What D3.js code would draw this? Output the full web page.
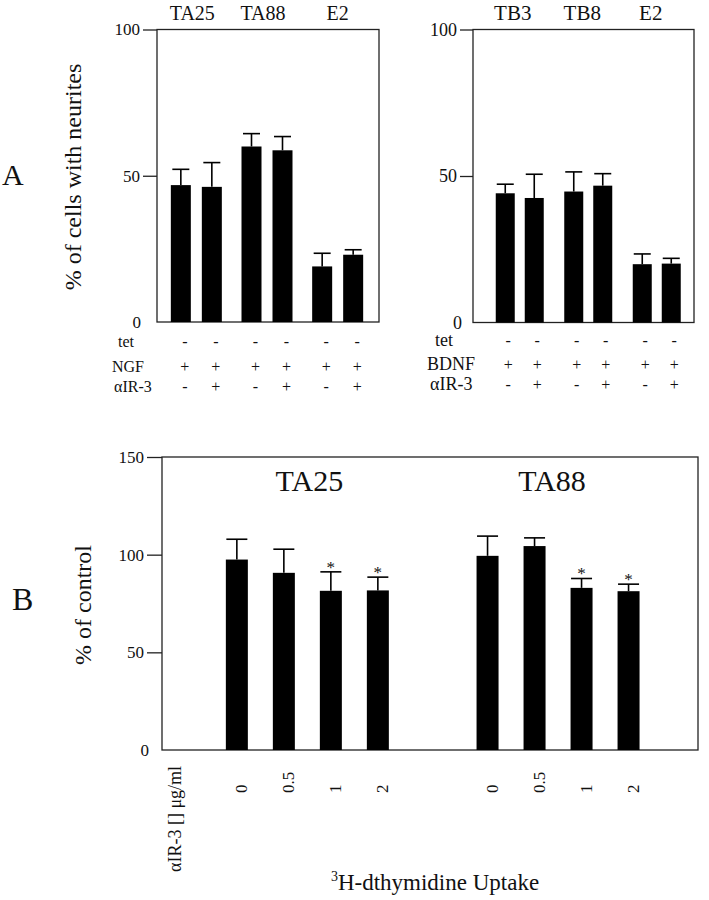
<!DOCTYPE html>
<html><head><meta charset="utf-8">
<script src="https://cdn.jsdelivr.net/npm/d3@7"></script>
<style>
body{margin:0;background:#fff}
svg text{font-family:'Liberation Serif','Times New Roman',Times,serif;fill:#111}
</style>
</head><body>
<svg id="c" width="709" height="900" font-family="'Liberation Serif', Times, serif"></svg>
<script>
// ---------- data ----------
const groupsA1 = ["TA25", "TA88", "E2"];
const valuesA1 = [46.8, 46.2, 60.0, 58.7, 19.0, 23.0];
const errorsA1 = [5.4, 8.3, 4.4, 4.7, 4.5, 1.7];
const groupsA2 = ["TB3", "TB8", "E2"];
const valuesA2 = [44.1, 42.5, 44.7, 46.7, 19.9, 20.1];
const errorsA2 = [3.1, 8.1, 6.7, 4.1, 3.5, 1.8];
const tetRow = ["-", "-", "-", "-", "-", "-"];
const factorRow = ["+", "+", "+", "+", "+", "+"];
const airRow = ["-", "+", "-", "+", "-", "+"];
const ticksA = [0, 50, 100];

const groupsB = ["TA25", "TA88"];
const dosesB = ["0", "0.5", "1", "2"];
const valuesB = [97.5, 90.7, 81.5, 81.7, 99.4, 104.4, 83.0, 81.3];
const errorsB = [10.4, 12.1, 9.7, 6.8, 10.1, 4.2, 4.8, 3.6];
const sigB = [false, false, true, true, false, false, true, true];
const ticksB = [0, 50, 100, 150];

// ---------- drawing ----------
const svg = d3.select("#c");
const FONT = "'Liberation Serif', Times, serif";

function txt(sel) { return sel.style("font-family", FONT).attr("fill", "#111"); }

function box(x0, x1, yT, yB) {
  svg.append("rect").attr("x", x0).attr("y", yT).attr("width", x1 - x0).attr("height", yB - yT)
    .attr("fill", "none").attr("stroke", "#222").attr("stroke-width", 1.3);
}

function leftAxis(x0, y, ticks, tickSize, fs, zeroShift) {
  const ga = svg.append("g").attr("transform", `translate(${x0},0)`)
    .call(d3.axisLeft(y).tickValues(ticks).tickSize(tickSize).tickPadding(3).tickFormat(d3.format("d")));
  ga.attr("font-family", FONT);
  ga.select(".domain").remove();
  ga.selectAll(".tick line").attr("stroke", "#222").attr("stroke-width", 1.3);
  ga.selectAll(".tick").filter(d => d === 0).select("line").remove();
  txt(ga.selectAll(".tick text")).style("font-size", fs + "px");
  ga.selectAll(".tick").filter(d => d === 0).select("text").attr("x", -tickSize - 3 + zeroShift);
}

function errBars(data, cx, y, capW) {
  const g = svg.append("g").attr("stroke", "#000").attr("stroke-width", 1.6);
  g.selectAll("line.v").data(data).join("line").attr("class", "v")
    .attr("x1", cx).attr("x2", cx).attr("y1", d => y(d.v)).attr("y2", d => y(d.v + d.e));
  g.selectAll("line.h").data(data).join("line").attr("class", "h")
    .attr("x1", d => cx(d) - capW / 2).attr("x2", d => cx(d) + capW / 2)
    .attr("y1", d => y(d.v + d.e)).attr("y2", d => y(d.v + d.e));
}

function panelA(c) {
  const y = d3.scaleLinear().domain([0, 100]).range([c.yB, c.yT]);
  const gx = d3.scaleBand().domain(c.groups).range([c.gStart, c.gEnd]);
  const ix = d3.scaleBand().domain([0, 1]).range([-c.half, c.half]).paddingInner(c.pad);
  const data = c.values.map((v, i) => ({ g: c.groups[Math.floor(i / 2)], k: i % 2, v, e: c.errors[i], i }));
  const left = d => gx(d.g) + gx.bandwidth() / 2 + ix(d.k);
  const cx = d => left(d) + ix.bandwidth() / 2;

  box(c.x0, c.x1, c.yT, c.yB);
  svg.append("g").selectAll("rect").data(data).join("rect")
    .attr("x", left).attr("width", ix.bandwidth())
    .attr("y", d => y(d.v)).attr("height", d => y(0) - y(d.v)).attr("fill", "#000");
  errBars(data, cx, y, c.capW);
  leftAxis(c.x0, y, ticksA, c.tick, c.tickFs, c.zeroShift);

  txt(svg.append("g").selectAll("text").data(c.groups).join("text"))
    .attr("x", (g, i) => gx(g) + gx.bandwidth() / 2 + c.labShift[i]).attr("y", 20)
    .attr("text-anchor", "middle").style("font-size", c.topFs + "px").text(g => g);

  const rows = [
    { name: "tet", vals: tetRow, y: c.rowY[0], x: c.rowX[0] },
    { name: c.factor, vals: factorRow, y: c.rowY[1], x: c.rowX[1] },
    { name: "\u03B1IR-3", vals: airRow, y: c.rowY[2], x: c.rowX[2] }
  ];
  rows.forEach(r => {
    txt(svg.append("text")).attr("x", r.x).attr("y", r.y).style("font-size", c.rowFs + "px").text(r.name);
    txt(svg.append("g").selectAll("text").data(data).join("text"))
      .attr("x", d => cx(d) + c.signShift).attr("y", r.y)
      .attr("text-anchor", "middle").style("font-size", "16px").text(d => r.vals[d.i]);
  });
}

panelA({
  x0: 157, x1: 379, yT: 29.5, yB: 322, groups: groupsA1, values: valuesA1, errors: errorsA1,
  gStart: 161, gEnd: 373, half: 25.5, pad: 11 / 31, capW: 17, tick: 14, tickFs: 17, zeroShift: 1,
  topFs: 20, labShift: [-4, -4, 0], factor: "NGF", rowFs: 16,
  rowY: [347, 372, 392], rowX: [118, 112, 114], signShift: 4
});
panelA({
  x0: 473, x1: 694, yT: 29.5, yB: 322.5, groups: groupsA2, values: valuesA2, errors: errorsA2,
  gStart: 485.5, gEnd: 691, half: 24, pad: 10 / 29, capW: 17, tick: 13, tickFs: 18, zeroShift: 5,
  topFs: 21, labShift: [-7, -6, -6], factor: "BDNF", rowFs: 18,
  rowY: [346, 370, 390], rowX: [435, 427, 430], signShift: 3
});

// ---------- panel B ----------
(function () {
  const x0 = 162, x1 = 698, yB = 750;
  const y = d3.scaleLinear().domain([0, 150]).range([yB, 457]);
  const gx = d3.scaleBand().domain(groupsB).range([182, 683.4]);
  const ix = d3.scaleBand().domain(dosesB).range([-81.5, 81.5]).paddingInner(25 / 47);
  const data = valuesB.map((v, i) => ({ g: groupsB[Math.floor(i / 4)], k: dosesB[i % 4], v, e: errorsB[i], s: sigB[i], i }));
  const left = d => gx(d.g) + gx.bandwidth() / 2 + ix(d.k);
  const cx = d => left(d) + ix.bandwidth() / 2;

  box(x0, x1, y(150), yB);
  svg.append("g").selectAll("rect").data(data).join("rect")
    .attr("x", left).attr("width", ix.bandwidth())
    .attr("y", d => y(d.v)).attr("height", d => y(0) - y(d.v)).attr("fill", "#000");
  errBars(data, cx, y, 21);
  txt(svg.append("g").selectAll("text").data(data.filter(d => d.s)).join("text"))
    .attr("x", cx).attr("y", d => y(d.v + d.e) + 1).attr("text-anchor", "middle")
    .style("font-size", "17px").text("*");
  leftAxis(x0, y, ticksB, 15, 17, 5);

  txt(svg.append("g").selectAll("text").data(groupsB).join("text"))
    .attr("x", (g, i) => gx(g) + gx.bandwidth() / 2 + [2, -6][i]).attr("y", 491)
    .attr("text-anchor", "middle").style("font-size", "30px").text(g => g);

  txt(svg.append("g").selectAll("text").data(data).join("text"))
    .attr("transform", d => `translate(${cx(d) + 4},793) rotate(-90)`)
    .attr("dy", "0.35em").attr("text-anchor", "start").style("font-size", "17px").text(d => d.k);

  txt(svg.append("text")).attr("transform", "translate(181,872) rotate(-90)")
    .attr("text-anchor", "start").style("font-size", "18px").text("\u03B1IR-3 [] \u03BCg/ml");

  const t = txt(svg.append("text")).attr("x", 435).attr("y", 890).attr("text-anchor", "middle").style("font-size", "23px");
  t.append("tspan").style("font-size", "14px").attr("dy", -9).text("3");
  t.append("tspan").attr("dy", 9).text("H-dthymidine Uptake");

  txt(svg.append("text")).attr("transform", "translate(91,605) rotate(-90)")
    .attr("text-anchor", "middle").style("font-size", "24px").text("% of control");
  txt(svg.append("text")).attr("x", 12).attr("y", 610).style("font-size", "32px").text("B");
})();

txt(svg.append("text")).attr("transform", "translate(81,177) rotate(-90)")
  .attr("text-anchor", "middle").style("font-size", "24px").text("% of cells with neurites");
txt(svg.append("text")).attr("x", 2).attr("y", 185).style("font-size", "30px").text("A");
</script>
</body></html>
